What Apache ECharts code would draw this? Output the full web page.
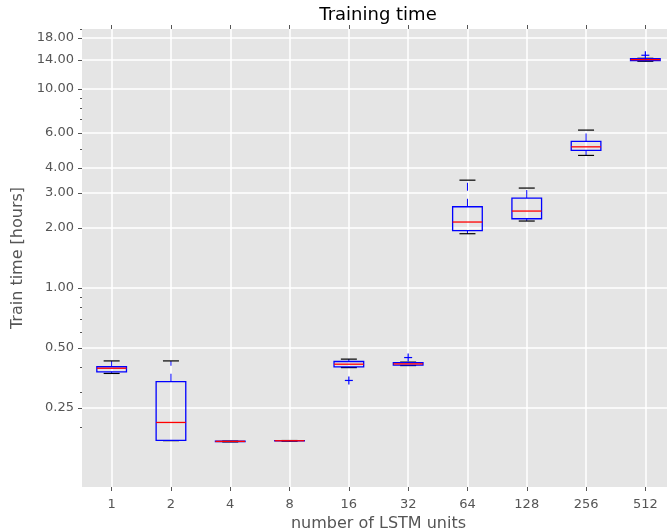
<!DOCTYPE html>
<html>
<head>
<meta charset="utf-8">
<script src="https://cdn.jsdelivr.net/npm/echarts@6/dist/echarts.min.js"></script>
<style>
html, body { margin: 0; padding: 0; background: #fff; }
#chart { width: 667px; height: 532px; }
</style>
</head>
<body>
<div id="chart"></div>
<script>
// number of LSTM units (one box per category)
var units = ['1', '2', '4', '8', '16', '32', '64', '128', '256', '512'];

// box statistics in hours
var capLow  = [0.372, 0.171,  0.1685, 0.1700, 0.398, 0.4075, 1.873, 2.169, 4.633, 13.77];
var q1      = [0.379, 0.1715, 0.1690, 0.1705, 0.4015, 0.4095, 1.939, 2.227, 4.909, 13.88];
var median  = [0.395, 0.211,  0.1695, 0.1708, 0.414, 0.4155, 2.144, 2.434, 5.117, 14.04];
var q3      = [0.402, 0.338,  0.1700, 0.1710, 0.427, 0.422,  2.558, 2.830, 5.445, 14.20];
var capHigh = [0.430, 0.430,  0.1700, 0.1712, 0.439, 0.424,  3.480, 3.176, 6.210, 14.25];

// outliers: [category index, hours]
var fliers = [[4, 0.343], [5, 0.447], [9, 14.76]];

var yTicks = [0.25, 0.5, 1, 2, 3, 4, 6, 10, 14, 18];
var yMinorTicks = [0.2, 0.3, 0.4, 0.6, 0.7, 0.8, 0.9, 5, 7, 8, 9, 20];

var boxData = units.map(function (u, i) {
    return [i, capLow[i], q1[i], median[i], q3[i], capHigh[i]];
});

var font = 'DejaVu Sans';

function renderBox(params, api) {
    var x = api.value(0);
    var band = api.size([1, 1], [x, 1])[0];
    var half = band * 0.25;
    var capHalf = band * 0.135;
    var pLow = api.coord([x, api.value(1)]);
    var pQ1 = api.coord([x, api.value(2)]);
    var pMed = api.coord([x, api.value(3)]);
    var pQ3 = api.coord([x, api.value(4)]);
    var pHigh = api.coord([x, api.value(5)]);
    var cx = pMed[0];
    var dashed = { stroke: '#0000ff', lineWidth: 1, lineDash: [8, 8] };
    return {
        type: 'group',
        children: [
            { type: 'line', shape: { x1: cx, y1: pQ1[1], x2: cx, y2: pLow[1] }, style: dashed },
            { type: 'line', shape: { x1: cx, y1: pQ3[1], x2: cx, y2: pHigh[1] }, style: dashed },
            { type: 'line', shape: { x1: cx - capHalf, y1: pLow[1], x2: cx + capHalf, y2: pLow[1] },
              style: { stroke: '#000', lineWidth: 1.2 } },
            { type: 'line', shape: { x1: cx - capHalf, y1: pHigh[1], x2: cx + capHalf, y2: pHigh[1] },
              style: { stroke: '#000', lineWidth: 1.2 } },
            { type: 'rect', shape: { x: cx - half, y: pQ3[1], width: half * 2, height: pQ1[1] - pQ3[1] },
              style: { fill: 'none', stroke: '#0000ff', lineWidth: 1.3 } },
            { type: 'line', shape: { x1: cx - half, y1: pMed[1], x2: cx + half, y2: pMed[1] },
              style: { stroke: '#ff0000', lineWidth: 1.3 } }
        ]
    };
}

function renderFlier(params, api) {
    var p = api.coord([api.value(0), api.value(1)]);
    var s = 4;
    return {
        type: 'group',
        children: [
            { type: 'line', shape: { x1: p[0] - s, y1: p[1], x2: p[0] + s, y2: p[1] }, style: { stroke: '#0000ff', lineWidth: 1.2 } },
            { type: 'line', shape: { x1: p[0], y1: p[1] - s, x2: p[0], y2: p[1] + s }, style: { stroke: '#0000ff', lineWidth: 1.2 } }
        ]
    };
}

var chart = echarts.init(document.getElementById('chart'));

var option = {
    animation: false,
    backgroundColor: '#fff',
    textStyle: { fontFamily: font },
    title: {
        text: 'Training time',
        left: 378,
        textAlign: 'center',
        top: 6,
        padding: 0,
        textStyle: { fontFamily: font, fontSize: 18, fontWeight: 'normal', color: '#000' }
    },
    grid: {
        left: 82, width: 593, top: 29, height: 458,
        outerBoundsMode: 'none',
        containLabel: false,
        show: true, backgroundColor: '#e5e5e5', borderWidth: 0
    },
    xAxis: [{
        type: 'category',
        data: units,
        position: 'bottom',
        axisLine: { show: false },
        axisTick: { show: true, alignWithLabel: true, length: 4, lineStyle: { color: '#555' } },
        axisLabel: { color: '#555', fontSize: 13, fontFamily: font, margin: 11 },
        splitLine: { show: true, alignWithLabel: true, lineStyle: { color: '#fff', width: 1.5 } },
        name: 'number of LSTM units',
        nameLocation: 'middle',
        nameGap: 27,
        nameTextStyle: { color: '#555', fontSize: 16, fontFamily: font }
    }, {
        type: 'category',
        data: units,
        position: 'top',
        axisLine: { show: false },
        axisTick: { show: true, alignWithLabel: true, length: 4, lineStyle: { color: '#555' } },
        axisLabel: { show: false },
        splitLine: { show: false }
    }],
    yAxis: [{
        type: 'log',
        logBase: 10,
        min: 0.1,
        max: 20,
        axisLine: { show: false },
        axisTick: { show: true, length: 4, customValues: yTicks, lineStyle: { color: '#555' } },
        axisLabel: {
            customValues: yTicks,
            color: '#555', fontSize: 13, fontFamily: font, margin: 8,
            formatter: function (v) { return Number(v).toFixed(2); }
        },
        splitLine: { show: true, lineStyle: { color: '#fff', width: 1.5 } },
        name: 'Train time [hours]',
        nameLocation: 'middle',
        nameGap: 47,
        nameTextStyle: { color: '#555', fontSize: 16, fontFamily: font }
    }, {
        type: 'log',
        logBase: 10,
        min: 0.1,
        max: 20,
        position: 'left',
        axisLine: { show: false },
        axisTick: { show: true, length: 2, customValues: yMinorTicks, lineStyle: { color: '#555' } },
        axisLabel: { show: false },
        splitLine: { show: false }
    }],
    series: [{
        type: 'custom',
        renderItem: renderBox,
        xAxisIndex: 0,
        yAxisIndex: 0,
        encode: { x: 0, y: [1, 2, 3, 4, 5] },
        data: boxData,
        z: 3
    }, {
        type: 'custom',
        renderItem: renderFlier,
        xAxisIndex: 0,
        yAxisIndex: 0,
        encode: { x: 0, y: 1 },
        data: fliers,
        z: 4
    }]
};

chart.setOption(option);
</script>
</body>
</html>
